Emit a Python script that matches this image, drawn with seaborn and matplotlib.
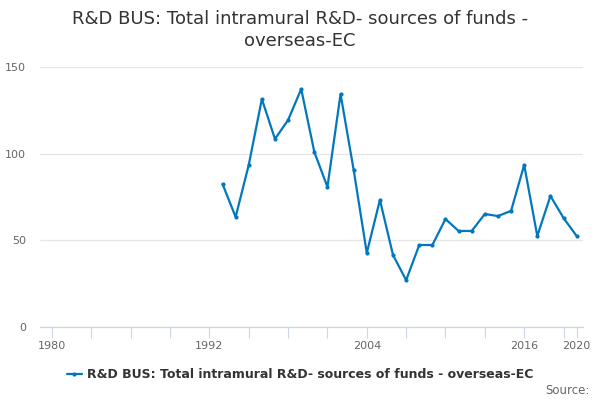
import numpy as np
import pandas as pd
import seaborn as sns
import matplotlib
matplotlib.use("Agg")
import matplotlib.pyplot as plt

years = list(range(1993, 2021))
values = [82.5, 63.5, 93.5, 131.5, 108.5, 119.4, 137.3, 101, 80.8, 134.4,
          90.6, 42.7, 73.3, 41.5, 27, 47.3, 47.3, 62.3, 55.4, 55.4,
          65.2, 64, 67, 93.5, 52.5, 75.6, 62.9, 52.5]
series_name = "R&D BUS: Total intramural R&D- sources of funds - overseas-EC"
title = "R&D BUS: Total intramural R&D- sources of funds -\noverseas-EC"
xtick_labels = [1980, 1992, 2004, 2016, 2020]
ytick_labels = [0, 50, 100, 150]

df = pd.DataFrame({"year": years, "value": values})

sns.set_theme(style="white")
plt.rcParams["font.family"] = ["DejaVu Sans"]

fig = plt.figure(figsize=(6, 4), dpi=100)
ax = fig.add_axes([0.067, 0.1825, 0.905, 0.65])

line_color = "#0277bd"
sns.lineplot(data=df, x="year", y="value", ax=ax, color=line_color,
             linewidth=1.6, marker="o", markersize=3.0, markeredgewidth=0,
             label=series_name)

ax.set_xlim(1979.1, 2020.5)
ax.set_ylim(0, 150)
ax.set_yticks(ytick_labels)
ax.yaxis.grid(True, color="#e6e6e6", linewidth=0.9)
ax.set_axisbelow(True)

# ticks every 3 years, labels only on a few
tick_pos = list(range(1980, 2020, 3)) + [2020]
ax.set_xticks(tick_pos)
ax.set_xticklabels([str(t) if t in xtick_labels else "" for t in tick_pos])
ax.tick_params(axis="x", length=8, width=0.8, color="#ccd6eb", colors="#666666",
               labelsize=8, pad=2, direction="out", bottom=True)
ax.tick_params(axis="y", length=0, colors="#666666", labelsize=8, pad=10)
for lbl in ax.get_xticklabels():
    lbl.set_color("#666666")

for s in ["top", "right", "left"]:
    ax.spines[s].set_visible(False)
ax.spines["bottom"].set_color("#ccd6eb")
ax.spines["bottom"].set_linewidth(0.9)

ax.set_xlabel("")
ax.set_ylabel("")

fig.suptitle(title, fontsize=13, color="#333333", y=0.975, linespacing=1.3)

leg = ax.legend(loc="center", bbox_to_anchor=(0.5, 0.0625), bbox_transform=fig.transFigure,
                frameon=False, handlelength=1.2, handletextpad=0.4,
                prop={"weight": "bold", "size": 9})
for t in leg.get_texts():
    t.set_color("#333333")

fig.text(0.983, 0.025, "Source:", ha="right", va="center", fontsize=8.5, color="#666666")

fig.savefig("out.png", dpi=100)
